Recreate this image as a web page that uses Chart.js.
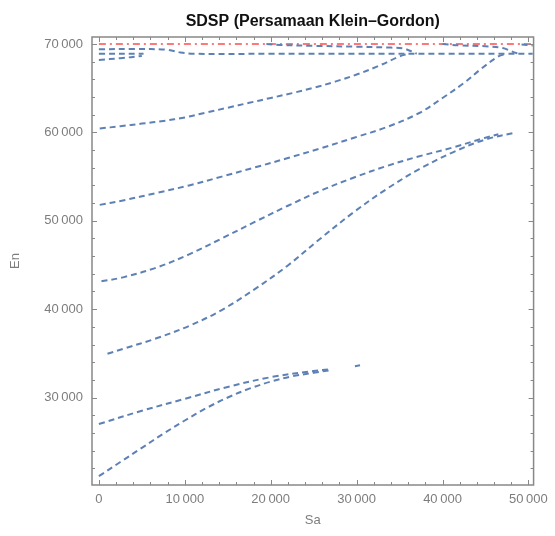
<!DOCTYPE html>
<html lang="id">
<head>
    <meta charset="UTF-8">
    <title>SDSP (Persamaan Klein–Gordon)</title>
    <script src="https://cdn.jsdelivr.net/npm/chart.js"></script>
    <style>
        body {
            margin: 0;
            background: #fff;
        }
        #wrap {
            width: 555px;
            height: 536px;
        }
    </style>
</head>
<body>
    <div id="wrap">
        <canvas id="sdspChart" width="555" height="536"></canvas>
    </div>

    <script>
        // Values (x = Sa, y = En)
        const chartTitle = 'SDSP (Persamaan Klein–Gordon)';
        const xTitle = 'Sa';
        const yTitle = 'En';
        const xTickValues = [0, 10000, 20000, 30000, 40000, 50000];
        const yTickValues = [30000, 40000, 50000, 60000, 70000];

        // reference level (red dash-dot)
        const limitLine = [[0, 70000], [50500, 70000]];

        // dashed blue level curves
        const curveA = [[0, 21100], [2500, 22700], [5000, 24300], [7500, 25900], [10000, 27400], [12500, 28800],
                        [15000, 30000], [17500, 31000], [20000, 31800], [22500, 32400], [25000, 32800], [27000, 33100]];
        const curveB = [[0, 27000], [5000, 28500], [10000, 29850], [15000, 31200], [20000, 32300], [25000, 33000], [27000, 33200]];
        const curveBdot = [[29800, 33550], [30400, 33650]];
        const curveC = [[1000, 34950], [2800, 35500], [6700, 36700], [10500, 38100], [14300, 39900], [18200, 42300],
                        [22000, 44950], [25800, 48000], [29700, 51000], [33500, 53600], [37300, 55850], [41200, 57750],
                        [45000, 59200], [48500, 60000]];
        const curveD = [[300, 43150], [2800, 43600], [6700, 44700], [10500, 46200], [14300, 48000], [18200, 49900],
                        [22000, 51700], [25800, 53400], [29700, 54900], [33500, 56200], [37300, 57300], [41200, 58300],
                        [45000, 59400], [46500, 59800]];
        const curveE = [[100, 51800], [2800, 52300], [6700, 53150], [10500, 54000], [14300, 55000], [18200, 56050],
                        [22000, 57100], [25800, 58200], [29700, 59400], [33500, 60600], [37300, 62200], [40000, 63900],
                        [42500, 65600], [44500, 67200], [46500, 68600], [47500, 68900]];
        const curveF = [[100, 60450], [2500, 60700], [5000, 61000], [7500, 61300], [10000, 61700], [12500, 62250],
                        [15000, 62800], [17500, 63350], [20000, 63900], [22500, 64450], [25000, 65050], [27500, 65750],
                        [30000, 66550], [32500, 67500], [35000, 68600], [36000, 68900]];
        const topA = [[0, 69400], [4000, 69450], [8000, 69350], [9500, 69050], [11000, 68900], [20000, 68900],
                      [30000, 68900], [40000, 68900], [50500, 68900]];
        const topB = [[0, 68900], [5200, 68900]];
        const topC = [[0, 68200], [2500, 68400], [5000, 68650]];
        const topD = [[19500, 70000], [21000, 69900], [25000, 69800], [30000, 69700], [34000, 69600], [35500, 69500], [37000, 68900]];
        const topE = [[40000, 70000], [42000, 69850], [45000, 69750], [47000, 69550], [48000, 69200], [48800, 68900]];
        const topF = [[49200, 69950], [50500, 69850]];

        const blueCurves = [curveA, curveB, curveBdot, curveC, curveD, curveE, curveF, topA, topB, topC, topD, topE, topF];

        const blue = '#5e81b5';
        const grey = '#7d7d7d';
        const fontFamily = '"Liberation Sans", Arial, sans-serif';

        const toPoints = arr => arr.map(([x, y]) => ({ x, y }));
        const fmt = v => String(v).replace(/\B(?=(\d{3})+(?!\d))/g, '\u2009');

        const datasets = blueCurves.map(c => ({
            data: toPoints(c),
            showLine: true,
            borderColor: blue,
            borderWidth: 2,
            borderDash: [6, 4],
            pointRadius: 0,
            tension: 0.35
        }));
        datasets.push({
            data: toPoints(limitLine),
            showLine: true,
            borderColor: 'rgba(255, 95, 95, 0.85)',
            borderWidth: 2,
            borderDash: [7, 4, 2, 4],
            pointRadius: 0
        });

        // frame with inward ticks on all four sides, plus the title
        const framePlugin = {
            id: 'frame',
            afterDraw(chart) {
                const { ctx, chartArea: a, scales } = chart;
                ctx.save();
                ctx.strokeStyle = '#888';
                ctx.lineWidth = 1.5;
                ctx.strokeRect(a.left, a.top, a.right - a.left, a.bottom - a.top);

                ctx.lineWidth = 1;
                ctx.beginPath();
                for (let v = 0; v <= scales.x.max; v += 2000) {
                    const px = Math.round(scales.x.getPixelForValue(v)) + 0.5;
                    const len = v % 10000 === 0 ? 5 : 3;
                    ctx.moveTo(px, a.bottom); ctx.lineTo(px, a.bottom - len);
                    ctx.moveTo(px, a.top); ctx.lineTo(px, a.top + len);
                }
                for (let v = 22000; v <= scales.y.max; v += 2000) {
                    const py = Math.round(scales.y.getPixelForValue(v)) + 0.5;
                    const len = v % 10000 === 0 ? 5 : 3;
                    ctx.moveTo(a.left, py); ctx.lineTo(a.left + len, py);
                    ctx.moveTo(a.right, py); ctx.lineTo(a.right - len, py);
                }
                ctx.stroke();

                ctx.fillStyle = '#111';
                ctx.font = 'bold 16px ' + fontFamily;
                ctx.textAlign = 'center';
                ctx.textBaseline = 'middle';
                ctx.fillText(chartTitle, (a.left + a.right) / 2, 22);
                ctx.restore();
            }
        };

        new Chart(document.getElementById('sdspChart'), {
            type: 'scatter',
            data: { datasets: datasets },
            options: {
                responsive: false,
                animation: false,
                layout: { padding: { top: 37, left: 8, right: 17, bottom: 8 } },
                scales: {
                    x: {
                        type: 'linear',
                        min: -800,
                        max: 50600,
                        afterBuildTicks: s => { s.ticks = xTickValues.map(v => ({ value: v })); },
                        afterFit: s => { s.height = 43; },
                        grid: { display: false, drawTicks: false },
                        border: { display: false },
                        ticks: {
                            padding: 7,
                            maxRotation: 0,
                            autoSkip: false,
                            color: grey,
                            font: { family: fontFamily, size: 13 },
                            callback: v => fmt(v)
                        },
                        title: {
                            display: true,
                            text: xTitle,
                            color: grey,
                            padding: 0,
                            font: { family: fontFamily, size: 13 }
                        }
                    },
                    y: {
                        type: 'linear',
                        min: 20100,
                        max: 70800,
                        afterBuildTicks: s => { s.ticks = yTickValues.map(v => ({ value: v })); },
                        afterFit: s => { s.width = 84; },
                        grid: { display: false, drawTicks: false },
                        border: { display: false },
                        ticks: {
                            padding: 9,
                            autoSkip: false,
                            color: grey,
                            font: { family: fontFamily, size: 13 },
                            callback: v => fmt(v)
                        },
                        title: {
                            display: true,
                            text: yTitle,
                            color: grey,
                            padding: 0,
                            font: { family: fontFamily, size: 13 }
                        }
                    }
                },
                plugins: {
                    legend: { display: false },
                    tooltip: { enabled: false },
                    title: { display: false }
                }
            },
            plugins: [framePlugin]
        });
    </script>
</body>
</html>
